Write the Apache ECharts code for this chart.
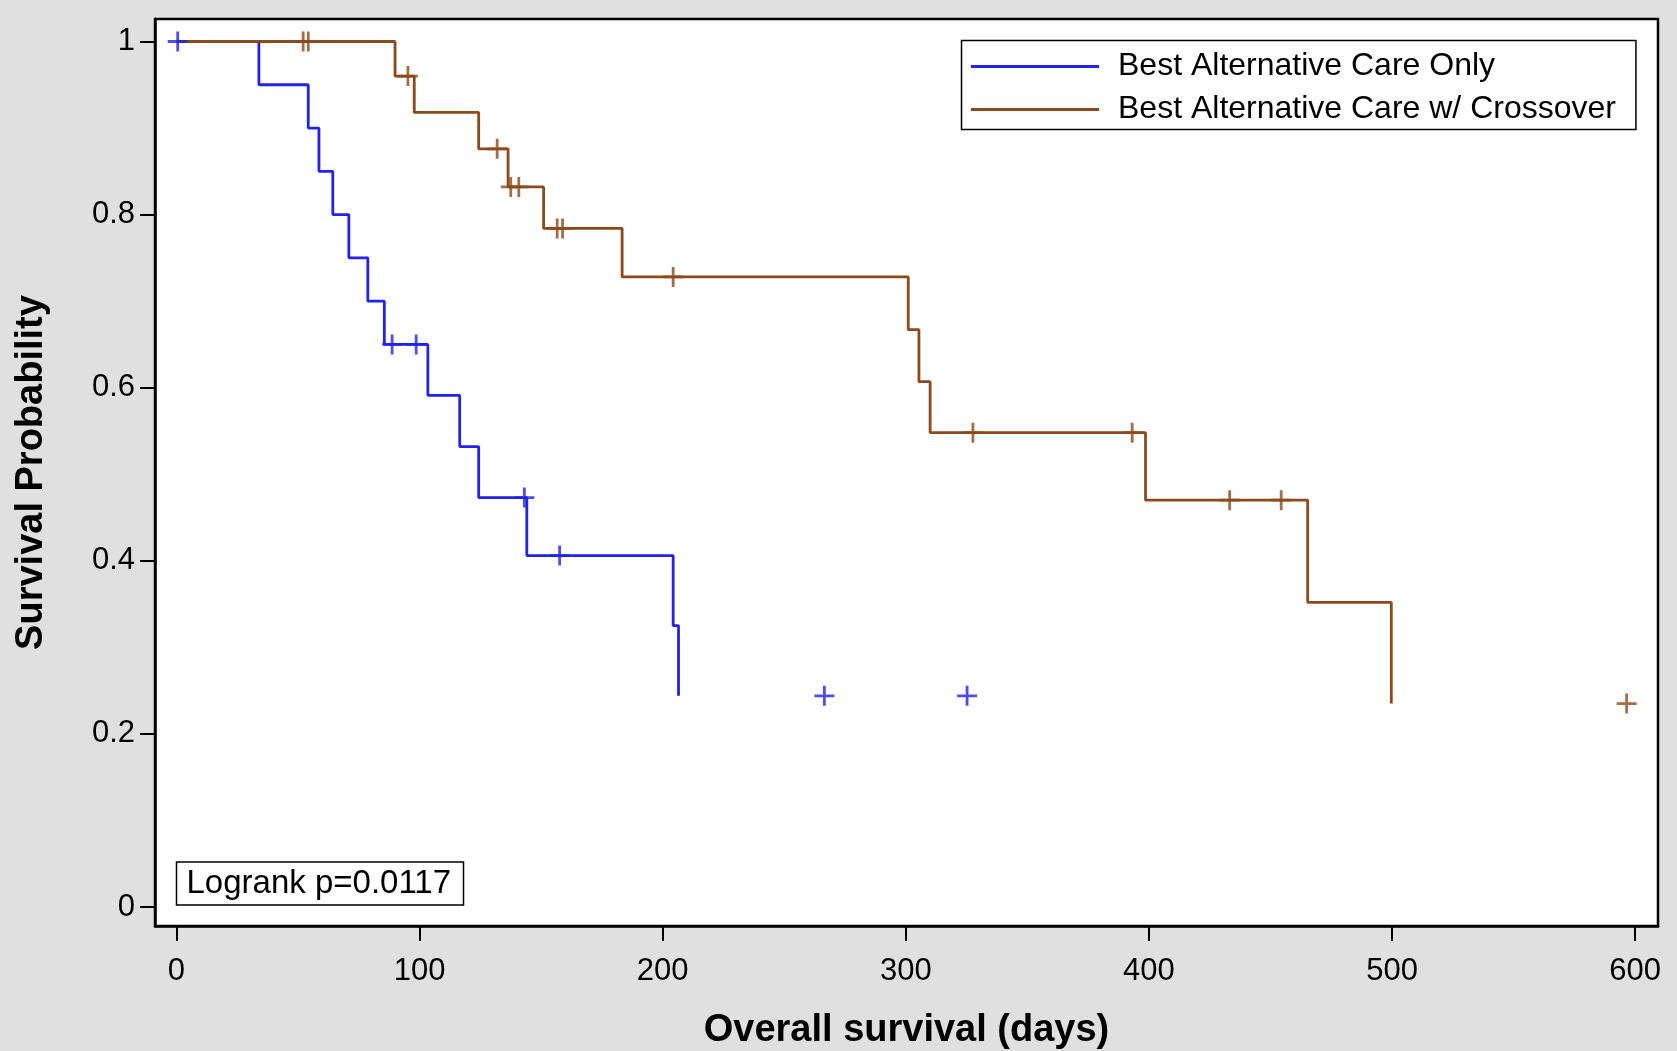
<!DOCTYPE html>
<html>
<head>
<meta charset="utf-8">
<script src="https://cdn.jsdelivr.net/npm/echarts@6/dist/echarts.min.js"></script>
<style>
  html, body { margin: 0; padding: 0; background: #e0e0e0; }
  #chart { width: 1677px; height: 1051px; }
</style>
</head>
<body>
<div id="chart"></div>
<script>
// Kaplan-Meier steps: time (days) where survival drops, and survival after the drop
const onlyTimes = [0, 33.9, 54.2, 58.6, 64.3, 70.9, 78.7, 85.5, 103.4, 116.5, 124.3, 144.1, 204.3, 206.5]
const onlySurv = [1, 0.95, 0.90, 0.85, 0.80, 0.75, 0.70, 0.65, 0.591, 0.532, 0.473, 0.406, 0.325, 0.244]
const onlyCensorTimes = [0.5, 88.7, 98.6, 143.1, 157.6, 266.5, 325.2]
const onlyCensorSurv = [1, 0.65, 0.65, 0.473, 0.406, 0.244, 0.244]

const crossTimes = [0, 89.9, 97.8, 124.3, 136.4, 151, 183.3, 301, 305.4, 310, 398.6, 465.3, 499.7]
const crossSurv = [1, 0.96, 0.918, 0.876, 0.832, 0.784, 0.728, 0.667, 0.607, 0.548, 0.470, 0.352, 0.235]
const crossCensorTimes = [52.1, 54.2, 95.2, 131.9, 137.5, 140.8, 156.6, 158.8, 204.3, 327.6, 393.1, 433.2, 454.4, 596.5]
const crossCensorSurv = [1, 1, 0.96, 0.876, 0.832, 0.832, 0.784, 0.784, 0.728, 0.548, 0.548, 0.470, 0.470, 0.235]

const xTicks = [0, 100, 200, 300, 400, 500, 600]
const yTicks = [0, 0.2, 0.4, 0.6, 0.8, 1]

const seriesNames = ["Best Alternative Care Only", "Best Alternative Care w/ Crossover"]
const pValueText = "Logrank p=0.0117"

const font = "'Liberation Sans', Arial, sans-serif"
const blue = "#2222ea"
const brown = "#8b4a1c"
const plus = "path://M8.6,0H11.4V8.6H20V11.4H11.4V20H8.6V11.4H0V8.6H8.6Z"

const zip = (xs, ys) => xs.map((x, i) => [x, ys[i]])

const chart = echarts.init(document.getElementById("chart"))

chart.setOption({
  animation: false,
  backgroundColor: "#e0e0e0",
  textStyle: { fontFamily: font },
  grid: {
    left: 155,
    right: 19,
    top: 19,
    bottom: 125,
    outerBoundsMode: "none",
    show: true,
    backgroundColor: "#fff",
    borderColor: "#000",
    borderWidth: 2.5
  },
  title: {
    text: pValueText,
    left: 176.5,
    top: 862,
    padding: [4, 13, 3, 10],
    backgroundColor: "#fff",
    borderColor: "#000",
    borderWidth: 1.5,
    textStyle: { fontFamily: font, fontSize: 33, fontWeight: "normal", color: "#000", lineHeight: 36 }
  },
  legend: {
    data: seriesNames,
    orient: "vertical",
    left: 961.5,
    top: 40.6,
    padding: [8, 20, 2, 9.5],
    itemGap: 7,
    itemWidth: 128,
    itemHeight: 3,
    icon: "rect",
    backgroundColor: "#fff",
    borderColor: "#000",
    borderWidth: 1.5,
    textStyle: { fontFamily: font, fontSize: 32, color: "#000", lineHeight: 36, padding: [0, 0, 0, 14] }
  },
  xAxis: {
    type: "value",
    min: -8.84,
    max: 609.4,
    name: "Overall survival (days)",
    nameLocation: "middle",
    nameGap: 86,
    nameTextStyle: { fontFamily: font, fontSize: 38, fontWeight: "bold", color: "#000" },
    axisLine: { show: true, onZero: false, lineStyle: { color: "#000", width: 2.5 } },
    axisTick: { show: true, length: 15, lineStyle: { color: "#000", width: 2 }, customValues: xTicks },
    axisLabel: { margin: 30, fontFamily: font, fontSize: 31, color: "#000", customValues: xTicks },
    splitLine: { show: false }
  },
  yAxis: {
    type: "value",
    min: -0.022,
    max: 1.026,
    name: "Survival Probability",
    nameLocation: "middle",
    nameGap: 104,
    nameTextStyle: { fontFamily: font, fontSize: 38, fontWeight: "bold", color: "#000" },
    axisLine: { show: true, onZero: false, lineStyle: { color: "#000", width: 2.5 } },
    axisTick: { show: true, length: 15, lineStyle: { color: "#000", width: 2 }, customValues: yTicks },
    axisLabel: { margin: 20, fontFamily: font, fontSize: 31, color: "#000", customValues: yTicks },
    splitLine: { show: false }
  },
  series: [
    {
      name: seriesNames[0],
      type: "line",
      step: "end",
      symbol: "none",
      color: blue,
      lineStyle: { color: blue, width: 2.8 },
      data: zip(onlyTimes, onlySurv),
      z: 2
    },
    {
      name: seriesNames[1],
      type: "line",
      step: "end",
      symbol: "none",
      color: brown,
      lineStyle: { color: brown, width: 2.8 },
      data: zip(crossTimes, crossSurv),
      z: 3
    },
    {
      name: "censored-only",
      type: "scatter",
      symbol: plus,
      symbolSize: 20,
      itemStyle: { color: blue },
      data: zip(onlyCensorTimes, onlyCensorSurv),
      z: 4
    },
    {
      name: "censored-cross",
      type: "scatter",
      symbol: plus,
      symbolSize: 20,
      itemStyle: { color: brown },
      data: zip(crossCensorTimes, crossCensorSurv),
      z: 4
    }
  ]
})
</script>
</body>
</html>
